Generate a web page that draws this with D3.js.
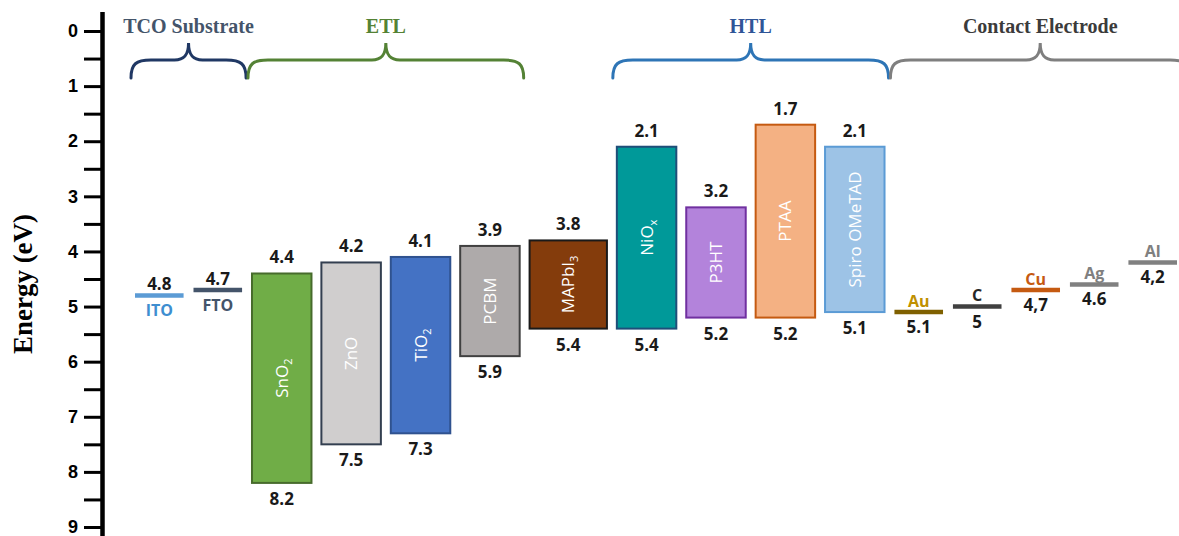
<!DOCTYPE html>
<html>
<head>
<meta charset="utf-8">
<script src="https://cdn.jsdelivr.net/npm/d3@7"></script>
<style>
  html, body { margin: 0; padding: 0; background: #ffffff; }
  svg { display: block; }
</style>
</head>
<body>
<div id="chart"></div>
<script>
// ---------------- DATA ----------------
const materials = ["ITO", "FTO", "SnO_2", "ZnO", "TiO_2", "PCBM", "MAPbI_3", "NiO_x", "P3HT", "PTAA", "Spiro OMeTAD", "Au", "C", "Cu", "Ag", "Al"];
const kinds     = ["line", "line", "bar", "bar", "bar", "bar", "absorber", "bar", "bar", "bar", "bar", "line", "line", "line", "line", "line"];
const groupOf   = ["TCO Substrate", "TCO Substrate", "ETL", "ETL", "ETL", "ETL", "", "HTL", "HTL", "HTL", "HTL", "Contact Electrode", "Contact Electrode", "Contact Electrode", "Contact Electrode", "Contact Electrode"];
// upper level (LUMO / CB / work function) and lower level (HOMO / VB), in eV
const upperLevels = [4.8, 4.7, 4.4, 4.2, 4.1, 3.9, 3.8, 2.1, 3.2, 1.7, 2.1, 5.1, 5.0, 4.7, 4.6, 4.2];
const lowerLevels = [null, null, 8.2, 7.5, 7.3, 5.9, 5.4, 5.4, 5.2, 5.2, 5.1, null, null, null, null, null];
const upperLabels = ["4.8", "4.7", "4.4", "4.2", "4.1", "3.9", "3.8", "2.1", "3.2", "1.7", "2.1", "5.1", "5", "4,7", "4.6", "4,2"];
const lowerLabels = ["", "", "8.2", "7.5", "7.3", "5.9", "5.4", "5.4", "5.2", "5.2", "5.1", "", "", "", "", ""];
const groupNames = ["TCO Substrate", "ETL", "HTL", "Contact Electrode"];
const tickValues = [0, 0.5, 1, 1.5, 2, 2.5, 3, 3.5, 4, 4.5, 5, 5.5, 6, 6.5, 7, 7.5, 8, 8.5, 9];
const tickLabels = ["0", "1", "2", "3", "4", "5", "6", "7", "8", "9"];
const axisTitle = "Energy (eV)";

// ---------------- STYLE ----------------
const W = 1179, H = 536;
const fillColor = {
  "ITO": "#5B9BD5", "FTO": "#44546A", "SnO_2": "#70AD47", "ZnO": "#D0CECE", "TiO_2": "#4472C4",
  "PCBM": "#AEAAAA", "MAPbI_3": "#843C0C", "NiO_x": "#009999", "P3HT": "#B383DB", "PTAA": "#F4B183",
  "Spiro OMeTAD": "#9DC3E6", "Au": "#7F6000", "C": "#404040", "Cu": "#C55A11", "Ag": "#808080", "Al": "#808080"
};
const strokeColor = {
  "SnO_2": "#476B2C", "ZnO": "#333F50", "TiO_2": "#2F528F", "PCBM": "#404040", "MAPbI_3": "#1A1A1A",
  "NiO_x": "#1F4E79", "P3HT": "#7030A0", "PTAA": "#C55A11", "Spiro OMeTAD": "#5B9BD5"
};
const nameColor = { "ITO": "#3E8ED0", "FTO": "#44546A", "Au": "#BF9000", "C": "#262626", "Cu": "#C55A11", "Ag": "#808080", "Al": "#808080" };
const groupTextColor = { "TCO Substrate": "#44546A", "ETL": "#548235", "HTL": "#2F5597", "Contact Electrode": "#3B3B3B" };
const braceColor = { "TCO Substrate": "#203864", "ETL": "#548235", "HTL": "#2E75B6", "Contact Electrode": "#7F7F7F" };
const kindWidth = { line: 49, bar: 60, absorber: 78 };
const gap = 10;
const SANS = "'Open Sans', 'Noto Sans', sans-serif";
const SERIF = "'Liberation Serif', 'Times New Roman', serif";

const svg = d3.select("#chart").append("svg").attr("width", W).attr("height", H);

// ---------------- SCALES ----------------
const y = d3.scaleLinear().domain([0, 9]).range([31, 527]);

const starts = [];
let acc = 0;
kinds.forEach((k, i) => { starts.push(acc); acc += kindWidth[k] + (i < kinds.length - 1 ? gap : 0); });
const x = d3.scaleLinear().domain([0, acc]).range([135, 1177]);
const items = materials.map((m, i) => ({
  name: m, kind: kinds[i], group: groupOf[i],
  up: upperLevels[i], lo: lowerLevels[i], upL: upperLabels[i], loL: lowerLabels[i],
  x0: x(starts[i]), x1: x(starts[i] + kindWidth[kinds[i]])
}));

// ---------------- AXIS ----------------
svg.append("line").attr("x1", 102.5).attr("x2", 102.5).attr("y1", 12).attr("y2", H)
  .attr("stroke", "#000").attr("stroke-width", 4.5);

const axis = d3.axisLeft(y).tickValues(tickValues).tickSize(17).tickPadding(6)
  .tickFormat(d => Number.isInteger(d) ? tickLabels[d] : "");
const gAxis = svg.append("g").attr("transform", "translate(101,0)").call(axis);
gAxis.select(".domain").remove();
gAxis.selectAll(".tick line").attr("stroke", "#000").attr("stroke-width", 3);
gAxis.selectAll(".tick text").attr("fill", "#000")
  .style("font-family", "'Liberation Sans', Arial, sans-serif").style("font-weight", "bold").style("font-size", "18px");

svg.append("text").attr("transform", `translate(32,${284}) rotate(-90)`)
  .attr("text-anchor", "middle")
  .style("font-family", SERIF).style("font-weight", "bold").style("font-size", "27px")
  .attr("fill", "#000").text(axisTitle);

// ---------------- GROUP BRACES ----------------
groupNames.forEach((g, gi) => {
  const mem = items.filter(d => d.group === g);
  const a = d3.min(mem, d => d.x0) - 4;
  const b = d3.max(mem, d => d.x1) + (gi === groupNames.length - 1 ? 13 : 4);
  const t = (a + b) / 2;
  const yb = 78, yh = 60, yt = 43;
  const p = d3.path();
  p.moveTo(a, yb);
  p.bezierCurveTo(a, yh + 4, a + 5, yh, a + 20, yh);
  p.lineTo(t - 14, yh);
  p.bezierCurveTo(t - 5, yh, t, yh - 4, t, yt);
  p.bezierCurveTo(t, yh - 4, t + 5, yh, t + 14, yh);
  p.lineTo(b - 20, yh);
  p.bezierCurveTo(b - 5, yh, b, yh + 4, b, yb);
  svg.append("path").attr("d", p.toString()).attr("fill", "none")
    .attr("stroke", braceColor[g]).attr("stroke-width", 3).attr("stroke-linecap", "round");
  svg.append("text").attr("x", t).attr("y", 33).attr("text-anchor", "middle")
    .style("font-family", SERIF).style("font-weight", "bold").style("font-size", "20px")
    .attr("fill", groupTextColor[g]).text(g);
});

// ---------------- BARS ----------------
const bars = items.filter(d => d.kind !== "line");
svg.selectAll("rect.band").data(bars).join("rect").attr("class", "band")
  .attr("x", d => d.x0).attr("width", d => d.x1 - d.x0)
  .attr("y", d => y(d.up)).attr("height", d => y(d.lo) - y(d.up))
  .attr("fill", d => fillColor[d.name]).attr("stroke", d => strokeColor[d.name]).attr("stroke-width", 2);

function richText(sel, name) {
  const parts = name.split("_");
  sel.append("tspan").text(parts[0]);
  if (parts[1]) sel.append("tspan").attr("dy", 4).style("font-size", "11px").text(parts[1]);
}
bars.forEach(d => {
  const cx = (d.x0 + d.x1) / 2, cy = (y(d.up) + y(d.lo)) / 2;
  const t = svg.append("text").attr("transform", `translate(${cx + 6},${cy}) rotate(-90)`)
    .attr("text-anchor", "middle")
    .style("font-family", SANS).style("font-size", "17px").attr("fill", "#ffffff");
  richText(t, d.name);
  svg.append("text").attr("x", cx).attr("y", y(d.up) - 16).attr("dy", "0.35em").attr("text-anchor", "middle")
    .style("font-family", SANS).style("font-weight", "bold").style("font-size", "17px").attr("fill", "#1A1A1A").text(d.upL);
  svg.append("text").attr("x", cx).attr("y", y(d.lo) + 16).attr("dy", "0.35em").attr("text-anchor", "middle")
    .style("font-family", SANS).style("font-weight", "bold").style("font-size", "17px").attr("fill", "#1A1A1A").text(d.loL);
});

// ---------------- LEVEL LINES (electrodes) ----------------
const lines = items.filter(d => d.kind === "line");
svg.selectAll("line.level").data(lines).join("line").attr("class", "level")
  .attr("x1", d => d.x0).attr("x2", d => d.x1).attr("y1", d => y(d.up)).attr("y2", d => y(d.up))
  .attr("stroke", d => fillColor[d.name]).attr("stroke-width", 4.5);
lines.forEach(d => {
  const cx = (d.x0 + d.x1) / 2, ly = y(d.up);
  const nameAbove = d.group !== "TCO Substrate";
  svg.append("text").attr("x", cx).attr("y", nameAbove ? ly - 11 : ly + 15).attr("dy", "0.35em")
    .attr("text-anchor", "middle").style("font-family", SANS).style("font-weight", "bold").style("font-size", "16px")
    .attr("fill", nameColor[d.name]).text(d.name);
  svg.append("text").attr("x", cx).attr("y", nameAbove ? ly + 15 : ly - 11).attr("dy", "0.35em")
    .attr("text-anchor", "middle").style("font-family", SANS).style("font-weight", "bold").style("font-size", "17px")
    .attr("fill", "#1A1A1A").text(d.upL);
});
</script>
</body>
</html>
